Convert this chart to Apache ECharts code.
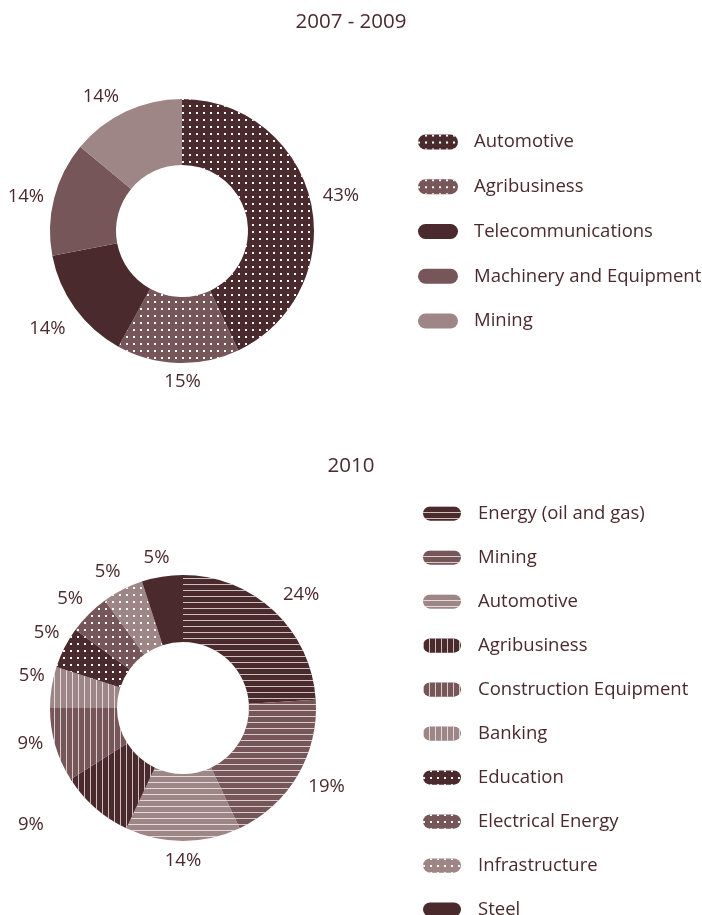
<!DOCTYPE html>
<html>
<head>
<meta charset="utf-8">
<script src="https://cdn.jsdelivr.net/npm/echarts@6/dist/echarts.min.js"></script>
<style>
  html, body { margin: 0; padding: 0; background: #fff; }
  #top { width: 702px; height: 440px; }
  #bottom { width: 702px; height: 475px; }
</style>
</head>
<body>
<div id="top"></div>
<div id="bottom"></div>
<script>
// data
const topTitle = '2007 - 2009'
const topCategories = ['Automotive', 'Agribusiness', 'Telecommunications', 'Machinery and Equipment', 'Mining']
const topValues = [43, 15, 14, 14, 14]

const bottomTitle = '2010'
const bottomCategories = ['Energy (oil and gas)', 'Mining', 'Automotive', 'Agribusiness', 'Construction Equipment',
  'Banking', 'Education', 'Electrical Energy', 'Infrastructure', 'Steel']
const bottomValues = [24, 19, 14, 9, 9, 5, 5, 5, 5, 5]

// colors and fill patterns
const ink = '#4a2a2c'
const shades = { dark: '#4a2a2c', mid: '#765658', light: '#9e8586' }
const font = '"Open Sans", sans-serif'
const decals = {
  dots: { symbol: 'rect', symbolSize: 1, dashArrayX: [2, 5], dashArrayY: [2, 5], color: '#ffffff' },
  hlines: { symbol: 'rect', symbolSize: 1, dashArrayX: [1, 0], dashArrayY: [1, 5], color: 'rgba(255,255,255,0.7)' },
  vlines: { symbol: 'rect', symbolSize: 1, dashArrayX: [1, 5], dashArrayY: [1, 0], color: 'rgba(255,255,255,0.7)' },
}
const topStyles = [['dark', 'dots'], ['mid', 'dots'], ['dark', null], ['mid', null], ['light', null]]
const bottomStyles = [['dark', 'hlines'], ['mid', 'hlines'], ['light', 'hlines'], ['dark', 'vlines'], ['mid', 'vlines'],
  ['light', 'vlines'], ['dark', 'dots'], ['mid', 'dots'], ['light', 'dots'], ['dark', null]]

const pill = 'path://M7.5,0H32.5A7.5,7.5,0,0,1,32.5,15H7.5A7.5,7.5,0,0,1,7.5,0Z'
const textSize = 18.5

// label placement: radial, with a few hand nudges [degrees, px]
function buildOption({ title, titleTop, names, values, styles, center, radius, legend, nudges }) {
  const total = values.reduce((a, b) => a + b, 0)
  let acc = 0
  const mids = values.map((v, i) => {
    const sweep = v / total * 360
    const m = acc + sweep / 2 + ((nudges[i] || [0, 0])[0])
    acc += sweep
    return m
  })
  const data = values.map((v, i) => {
    const [shade, pattern] = styles[i]
    const itemStyle = { color: shades[shade] }
    if (pattern) itemStyle.decal = decals[pattern]
    return { name: names[i], value: v, itemStyle }
  })
  return {
    animation: false,
    title: {
      text: title, left: 'center', top: titleTop,
      textStyle: { color: ink, fontFamily: font, fontSize: 20.5, fontWeight: 'normal' },
    },
    legend: Object.assign({
      orient: 'vertical', itemHeight: 15, selectedMode: false, icon: pill, padding: 0,
      data: names,
    }, legend),
    series: [{
      type: 'pie',
      center,
      radius,
      startAngle: 90,
      clockwise: true,
      avoidLabelOverlap: false,
      silent: true,
      data,
      label: {
        show: true, position: 'outside', formatter: '{c}%',
        color: ink, fontFamily: font, fontSize: textSize,
      },
      labelLine: { show: false },
      labelLayout(params) {
        const i = params.dataIndex
        const a = mids[i] * Math.PI / 180
        const dx = Math.sin(a), dy = -Math.cos(a)
        const w = params.labelRect.width / 2, h = params.labelRect.height / 2
        const d = radius[1] + 8 + Math.abs(dx) * w + Math.abs(dy) * h + ((nudges[i] || [0, 0])[1])
        return { x: center[0] + dx * d, y: center[1] + dy * d, align: 'center', verticalAlign: 'middle' }
      },
    }],
  }
}

const topChart = echarts.init(document.getElementById('top'), null, { renderer: 'canvas' })
topChart.setOption(buildOption({
  title: topTitle, titleTop: 7,
  names: topCategories, values: topValues, styles: topStyles,
  center: [182, 231], radius: [66, 132],
  legend: { left: 418, top: 132, height: 300, itemWidth: 40, itemGap: 24.75,
    textStyle: { color: ink, fontFamily: font, fontSize: textSize, lineHeight: 20, padding: [0, 0, 0, 11] } },
  nudges: [[0, 3], [-2, 1], [0, 6], [-2, 0], [-6, -1]],
}))

const bottomChart = echarts.init(document.getElementById('bottom'), null, { renderer: 'canvas' })
bottomChart.setOption(buildOption({
  title: bottomTitle, titleTop: 11,
  names: bottomCategories, values: bottomValues, styles: bottomStyles,
  center: [183, 268], radius: [66, 133],
  legend: { left: 423, top: 63.5, height: 480, itemWidth: 38, itemGap: 24,
    textStyle: { color: ink, fontFamily: font, fontSize: textSize, lineHeight: 20, padding: [0, 0, 0, 12] } },
  nudges: [[3, 3], [-2, 2], [0, 2], [11, 35], [3, 1], [3, -1], [2, -1], [-1, 0], [-2, 0], [-1, 0]],
}))
</script>
</body>
</html>
